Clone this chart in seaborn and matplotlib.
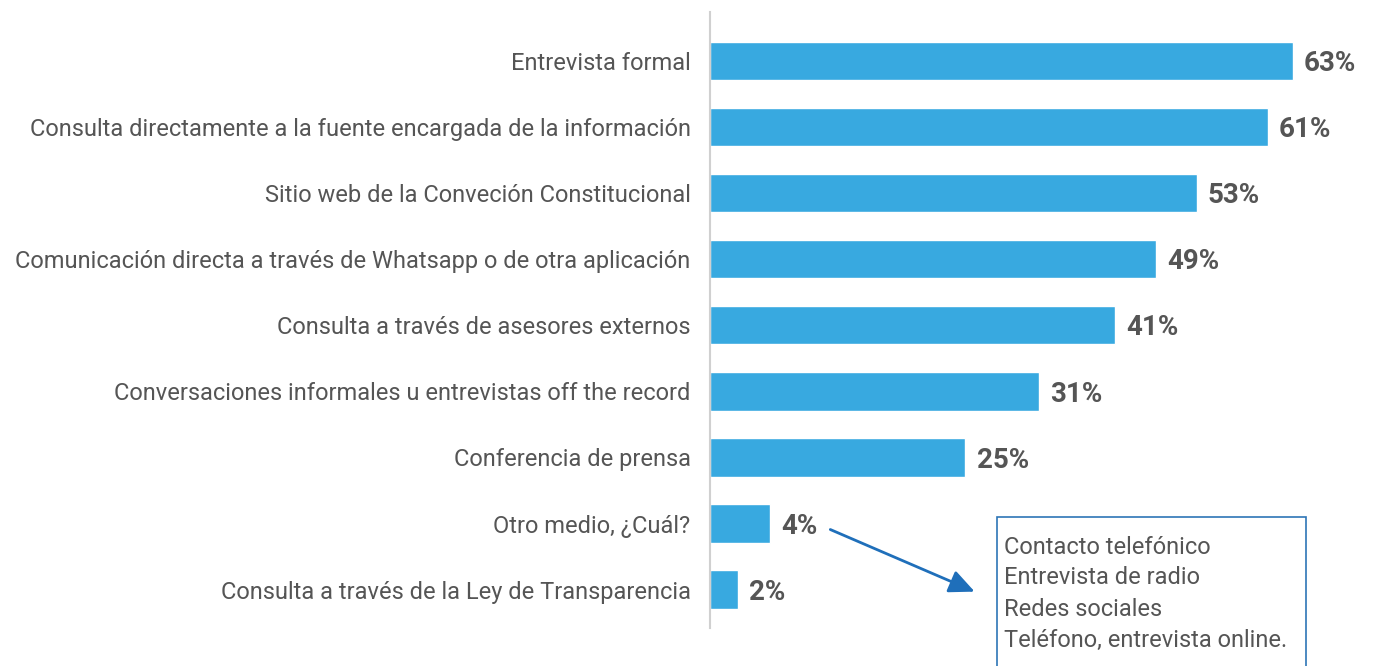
import matplotlib
matplotlib.use("Agg")
import matplotlib.pyplot as plt
import matplotlib.patches as mpatches
import seaborn as sns
import pandas as pd

categories = [
    "Entrevista formal",
    "Consulta directamente a la fuente encargada de la información",
    "Sitio web de la Conveción Constitucional",
    "Comunicación directa a través de Whatsapp o de otra aplicación",
    "Consulta a través de asesores externos",
    "Conversaciones informales u entrevistas off the record",
    "Conferencia de prensa",
    "Otro medio, ¿Cuál?",
    "Consulta a través de la Ley de Transparencia",
]
percent_labels = [63, 61, 53, 49, 41, 31, 25, 4, 2]
# bar lengths as drawn in the picture (they don't match the labels exactly)
bar_lengths = [63.0, 60.3, 52.6, 48.2, 43.8, 35.6, 27.6, 6.5, 3.0]
other_answers = [
    "Contacto telefónico",
    "Entrevista de radio",
    "Redes sociales",
    "Teléfono, entrevista online.",
]

BLUE = "#38a9e0"
GREY = "#555555"

sns.set_style("white")
plt.rcParams["font.family"] = ["Roboto", "DejaVu Sans"]

df = pd.DataFrame({"cat": categories, "len": bar_lengths, "pct": percent_labels})

fig = plt.figure(figsize=(13.75, 6.66), dpi=100)
ax = fig.add_axes([710 / 1375, 38 / 666, 665 / 1375, 616 / 666])
sns.barplot(data=df, y="cat", x="len", color=BLUE, width=0.58,
            saturation=1, orient="h", ax=ax)
ax.set_xlim(0, 665 / 9.254)
ax.set_ylim(8.58, -0.74)
ax.set_xlabel("")
ax.set_ylabel("")
ax.set_xticks([])
ax.tick_params(axis="y", length=0, pad=14, labelsize=17, labelcolor=GREY)
for s in ["top", "right", "bottom"]:
    ax.spines[s].set_visible(False)
ax.spines["left"].set_color("#d0d0d0")
ax.spines["left"].set_linewidth(1.5)

for i, (l, p) in enumerate(zip(bar_lengths, percent_labels)):
    ax.text(l + 1.2, i + 0.04, f"{p}%", va="center", ha="left",
            fontsize=20, fontweight="bold", color=GREY)

# note box with the "other" answers
box = mpatches.Rectangle((997 / 1375, -0.1), 309 / 1375, 0.1 + 149 / 666,
                         transform=fig.transFigure, fill=False,
                         edgecolor="#2e75b6", linewidth=1.2)
fig.patches.append(box)
for k, line in enumerate(other_answers):
    fig.text(1004 / 1375, 1 - (547 + 31 * k) / 666, line, va="center",
             ha="left", fontsize=17, color=GREY)

ax.annotate("", xy=(28.6, 8.03), xytext=(bar_lengths[7] + 6.5, 7.09),
            arrowprops=dict(arrowstyle="-|>,head_length=0.7,head_width=0.32",
                            color="#1f6fba", lw=2,
                            mutation_scale=22, shrinkA=0, shrinkB=0))

fig.savefig("out.png", dpi=100)
